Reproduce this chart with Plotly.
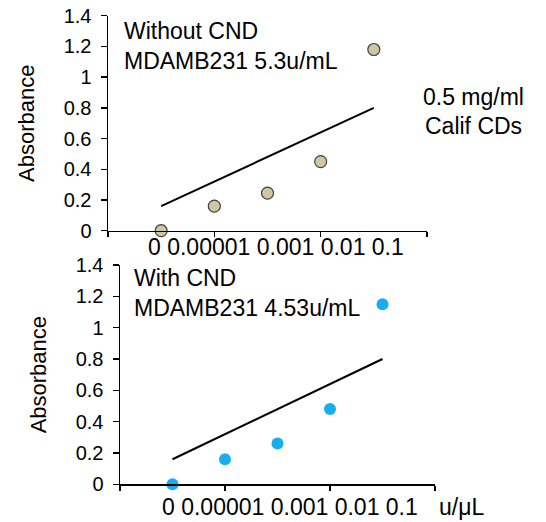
import plotly.graph_objects as go

# Data
x_pos = [1, 2, 3, 4, 5]
without_cnd = [0.0, 0.16, 0.245, 0.45, 1.18]
with_cnd = [0.0, 0.16, 0.26, 0.48, 1.15]
trend_x = [1, 5]
trend_without = [0.16, 0.80]
trend_with = [0.16, 0.80]
x_tick_labels = ["0", "0.00001", "0.001", "0.01", "0.1"]
y_ticks = [0, 0.2, 0.4, 0.6, 0.8, 1, 1.2, 1.4]
y_tick_text = ["0", "0.2", "0.4", "0.6", "0.8", "1", "1.2", "1.4"]

W, H = 546, 522
FONT = "Liberation Sans, Arial, sans-serif"

def px(x):
    return x / W

def py(y):
    return 1 - y / H

fig = go.Figure()

# top panel
fig.add_trace(go.Scatter(x=trend_x, y=trend_without, mode="lines",
                         line=dict(color="black", width=2), xaxis="x", yaxis="y",
                         showlegend=False))
fig.add_trace(go.Scatter(x=x_pos, y=without_cnd, mode="markers",
                         marker=dict(size=12, color="#CFC6A3",
                                     line=dict(color="#404040", width=1.2)),
                         xaxis="x", yaxis="y", showlegend=False, cliponaxis=False))
# bottom panel
fig.add_trace(go.Scatter(x=trend_x, y=trend_with, mode="lines",
                         line=dict(color="black", width=2), xaxis="x2", yaxis="y2",
                         showlegend=False))
fig.add_trace(go.Scatter(x=x_pos, y=with_cnd, mode="markers",
                         marker=dict(size=12, color="#1AADEE",
                                     line=dict(color="#1AADEE", width=0)),
                         xaxis="x2", yaxis="y2", showlegend=False, cliponaxis=False))

xaxis_common = dict(range=[0, 6], tickmode="array", tickvals=[0, 2, 4, 6],
                    showticklabels=False, ticks="outside", ticklen=5, tickwidth=1.5,
                    tickcolor="black", showline=True, linecolor="black", linewidth=1.5,
                    showgrid=False, zeroline=False, fixedrange=True, automargin=False)
yaxis_common = dict(range=[0, 1.4], tickmode="array", tickvals=y_ticks, ticktext=y_tick_text,
                    ticks="outside", ticklen=6, tickwidth=1.5, tickcolor="black",
                    showline=True, linecolor="black", linewidth=1.5, showgrid=False,
                    zeroline=False, tickfont=dict(family=FONT, size=20, color="black"),
                    ticklabelstandoff=5, automargin=False, fixedrange=True,
                    title=dict(text="Absorbance", font=dict(family=FONT, size=22, color="black"),
                               standoff=23))

fig.update_layout(
    width=W, height=H,
    margin=dict(l=0, r=0, t=0, b=0),
    paper_bgcolor="white", plot_bgcolor="white",
    font=dict(family=FONT, color="black"),
    hovermode=False,
    xaxis=dict(domain=[px(108), px(427)], anchor="y", **xaxis_common),
    yaxis=dict(domain=[py(230.7), py(15.7)], anchor="x", **yaxis_common),
    xaxis2=dict(domain=[px(120), px(435)], anchor="y2", **xaxis_common),
    yaxis2=dict(domain=[py(484.3), py(265)], anchor="x2", **yaxis_common),
)

ann_font = dict(family=FONT, size=23, color="black")
tick_text = " ".join(x_tick_labels)
annotations = [
    dict(text="Without CND", x=px(122), y=py(31), xanchor="left", yanchor="middle"),
    dict(text="MDAMB231 5.3u/mL", x=px(122), y=py(61), xanchor="left", yanchor="middle"),
    dict(text="0.5 mg/ml", x=px(473), y=py(97), xanchor="center", yanchor="middle"),
    dict(text="Calif CDs", x=px(473), y=py(126), xanchor="center", yanchor="middle"),
    dict(text=tick_text, x=px(276), y=py(247), xanchor="center", yanchor="middle"),
    dict(text="With CND", x=px(132), y=py(278), xanchor="left", yanchor="middle"),
    dict(text="MDAMB231 4.53u/mL", x=px(132), y=py(308), xanchor="left", yanchor="middle"),
    dict(text=tick_text, x=px(290), y=py(507), xanchor="center", yanchor="middle"),
    dict(text="u/μL", x=px(461), y=py(507), xanchor="center", yanchor="middle"),
]
for a in annotations:
    a.update(xref="paper", yref="paper", showarrow=False, font=ann_font)
fig.update_layout(annotations=annotations)

fig.write_html("out.html", config={"displayModeBar": False, "staticPlot": True},
               post_script="document.body.style.margin='0';document.body.style.overflow='hidden';")
